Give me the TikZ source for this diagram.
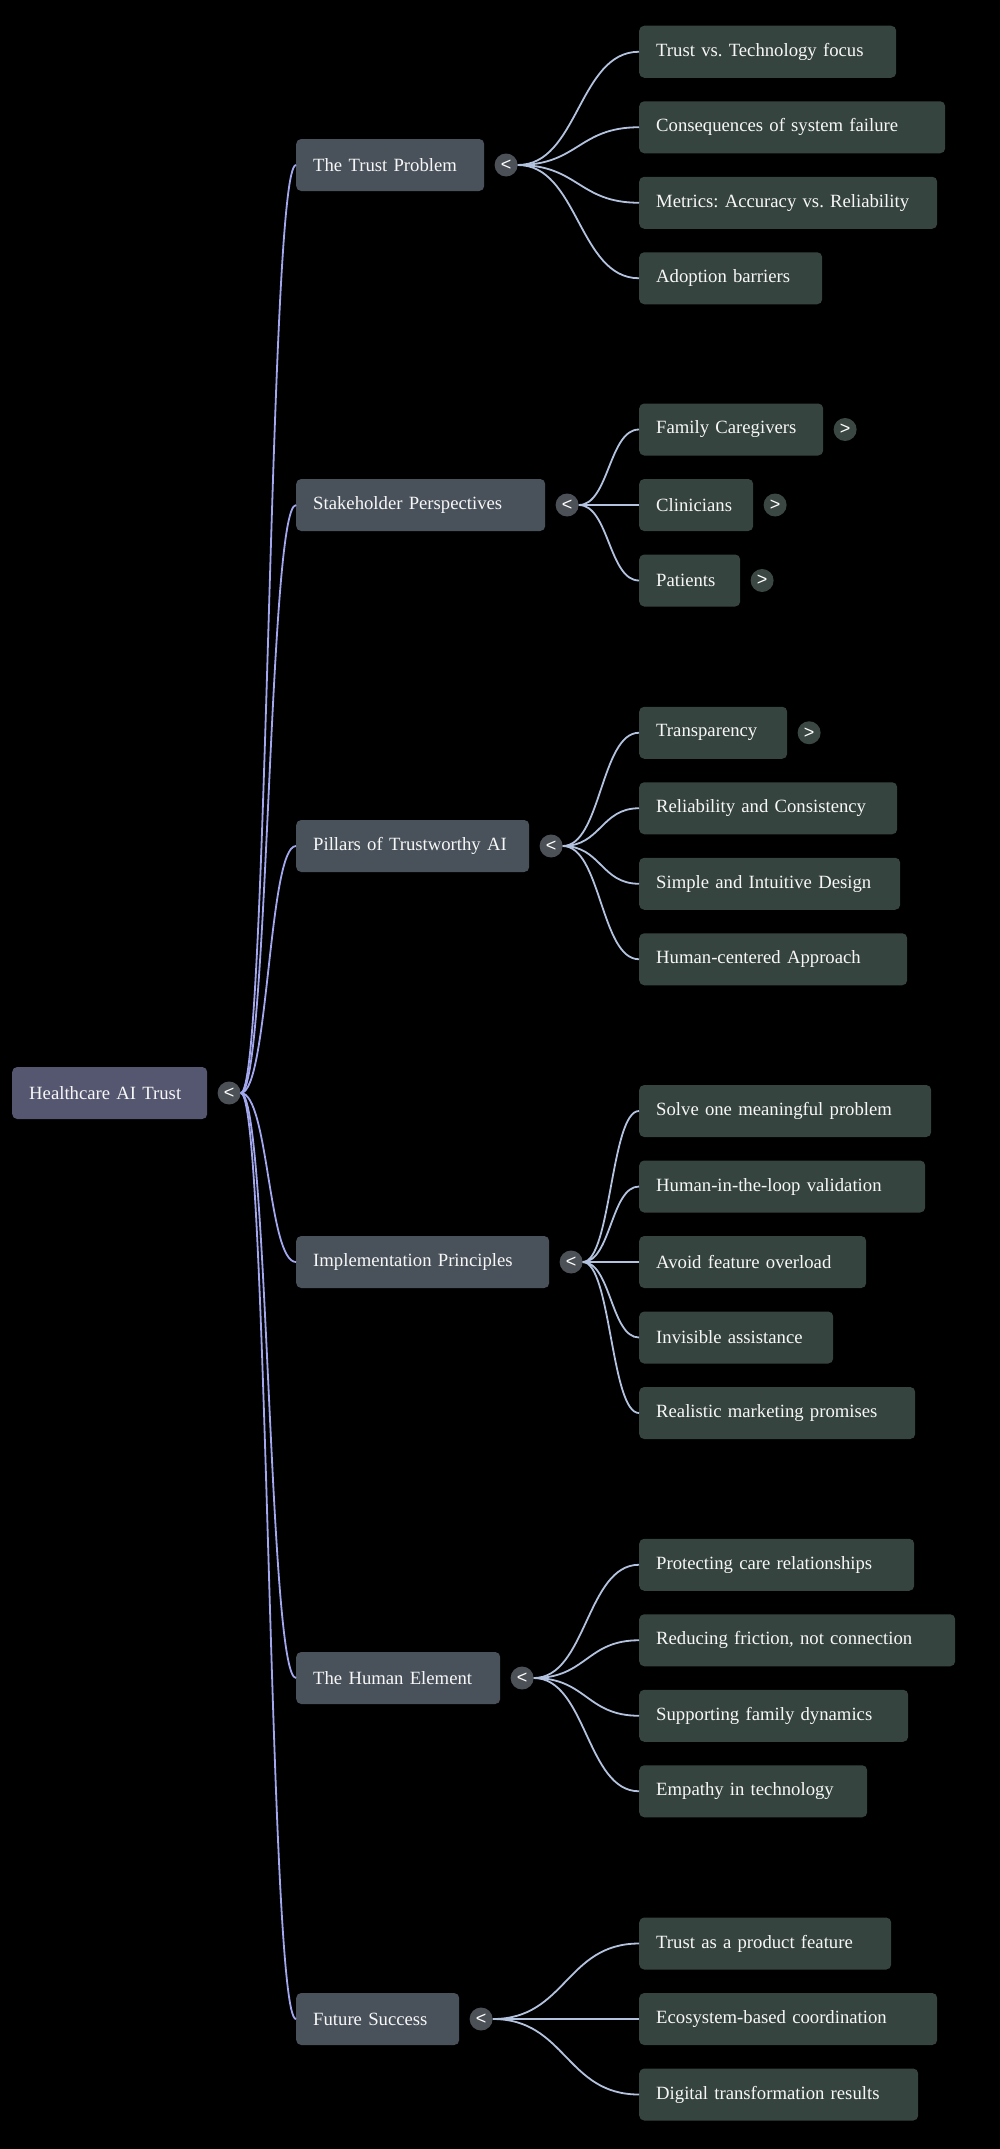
\documentclass[tikz,border=0pt]{standalone}
\usepackage{fontspec}
\setmainfont{Liberation Serif}
\newfontfamily\signfont{Liberation Sans}
\usetikzlibrary{calc,positioning}
\frenchspacing

\definecolor{rootfill}{HTML}{55566F}
\definecolor{onefill}{HTML}{49515A}
\definecolor{twofill}{HTML}{36443F}
\definecolor{rootline}{HTML}{A3A8EE}
\definecolor{branchline}{HTML}{B3C2DE}
\definecolor{togglefill}{HTML}{4C5057}
\definecolor{toggletwo}{HTML}{3A4742}

\begin{document}
\begin{tikzpicture}[x=1pt,y=-1pt,
                box/.style={anchor=west,rounded corners=5pt,inner xsep=17pt,inner ysep=0pt,minimum height=52pt,align=left,text=white!97!black,font=\fontsize{18.7}{22}\selectfont},
                rootbox/.style={box,fill=rootfill},
                onebox/.style={box,fill=onefill},
                twobox/.style={box,fill=twofill},
                toggle/.style={circle,inner sep=0pt,minimum size=23pt,fill=togglefill,text=white,font=\signfont\fontsize{18}{18}\selectfont},
                toggletwo/.style={toggle,fill=toggletwo},
                link/.style={line width=1.8pt}
                ]
                \fill [black] (0,0) rectangle (1000,2149);
                \node [rootbox,text width=161pt] (root) at (12,1093) {Healthcare AI Trust};
                \node [toggle,right=10pt of root] (swroot) {<};

                \node [onebox,text width=154pt] (trust) at (296,165) {The Trust Problem};
                \node [onebox,text width=215pt] (stake) at (296,505) {Stakeholder Perspectives};
                \node [onebox,text width=199pt] (pillars) at (296,846) {Pillars of Trustworthy AI};
                \node [onebox,text width=219pt] (impl) at (296,1262) {Implementation Principles};
                \node [onebox,text width=170pt] (human) at (296,1678) {The Human Element};
                \node [onebox,text width=129pt] (future) at (296,2019) {Future Success};
                \foreach \n in {trust,stake,pillars,impl,human,future} {
                    \node [toggle,right=10pt of \n] (sw\n) {<};
                    \coordinate (mid) at ($(swroot.east)!0.5!(\n.west)$);
                    \draw [link,rootline] (swroot.east) .. controls (mid |- swroot.east) and (mid |- \n.west) .. (\n.west);
                }

                \node [twobox,text width=223pt] (trust1) at (639,51.75) {Trust vs. Technology focus};
                \node [twobox,text width=272pt] (trust2) at (639,127.25) {Consequences of system failure};
                \node [twobox,text width=264pt] (trust3) at (639,202.75) {Metrics: Accuracy vs. Reliability};
                \node [twobox,text width=149pt] (trust4) at (639,278.25) {Adoption barriers};

                \node [twobox,text width=150pt] (stake1) at (639,429.5) {Family Caregivers};
                \node [twobox,text width=80pt] (stake2) at (639,505) {Clinicians};
                \node [twobox,text width=67pt] (stake3) at (639,580.5) {Patients};

                \node [twobox,text width=114pt] (pillars1) at (639,732.75) {Transparency};
                \node [twobox,text width=224pt] (pillars2) at (639,808.25) {Reliability and Consistency};
                \node [twobox,text width=227pt] (pillars3) at (639,883.75) {Simple and Intuitive Design};
                \node [twobox,text width=234pt] (pillars4) at (639,959.25) {Human-centered Approach};

                \node [twobox,text width=258pt] (impl1) at (639,1111) {Solve one meaningful problem};
                \node [twobox,text width=252pt] (impl2) at (639,1186.5) {Human-in-the-loop validation};
                \node [twobox,text width=193pt] (impl3) at (639,1262) {Avoid feature overload};
                \node [twobox,text width=160pt] (impl4) at (639,1337.5) {Invisible assistance};
                \node [twobox,text width=242pt] (impl5) at (639,1413) {Realistic marketing promises};

                \node [twobox,text width=241pt] (human1) at (639,1564.75) {Protecting care relationships};
                \node [twobox,text width=282pt] (human2) at (639,1640.25) {Reducing friction, not connection};
                \node [twobox,text width=235pt] (human3) at (639,1715.75) {Supporting family dynamics};
                \node [twobox,text width=194pt] (human4) at (639,1791.25) {Empathy in technology};

                \node [twobox,text width=218pt] (future1) at (639,1943.5) {Trust as a product feature};
                \node [twobox,text width=264pt] (future2) at (639,2019) {Ecosystem-based coordination};
                \node [twobox,text width=245pt] (future3) at (639,2094.5) {Digital transformation results};

                \foreach \n in {stake1,stake2,stake3,pillars1}
                    \node [toggletwo,right=10pt of \n] (sw\n) {>};

                \foreach \p/\c in {trust/trust1,trust/trust2,trust/trust3,trust/trust4,
                                   stake/stake1,stake/stake2,stake/stake3,
                                   pillars/pillars1,pillars/pillars2,pillars/pillars3,pillars/pillars4,
                                   impl/impl1,impl/impl2,impl/impl3,impl/impl4,impl/impl5,
                                   human/human1,human/human2,human/human3,human/human4,
                                   future/future1,future/future2,future/future3} {
                    \coordinate (mid) at ($(sw\p.east)!0.5!(\c.west)$);
                    \draw [link,branchline] (sw\p.east) .. controls (mid |- sw\p.east) and (mid |- \c.west) .. (\c.west);
                }
            \end{tikzpicture}
\end{document}
